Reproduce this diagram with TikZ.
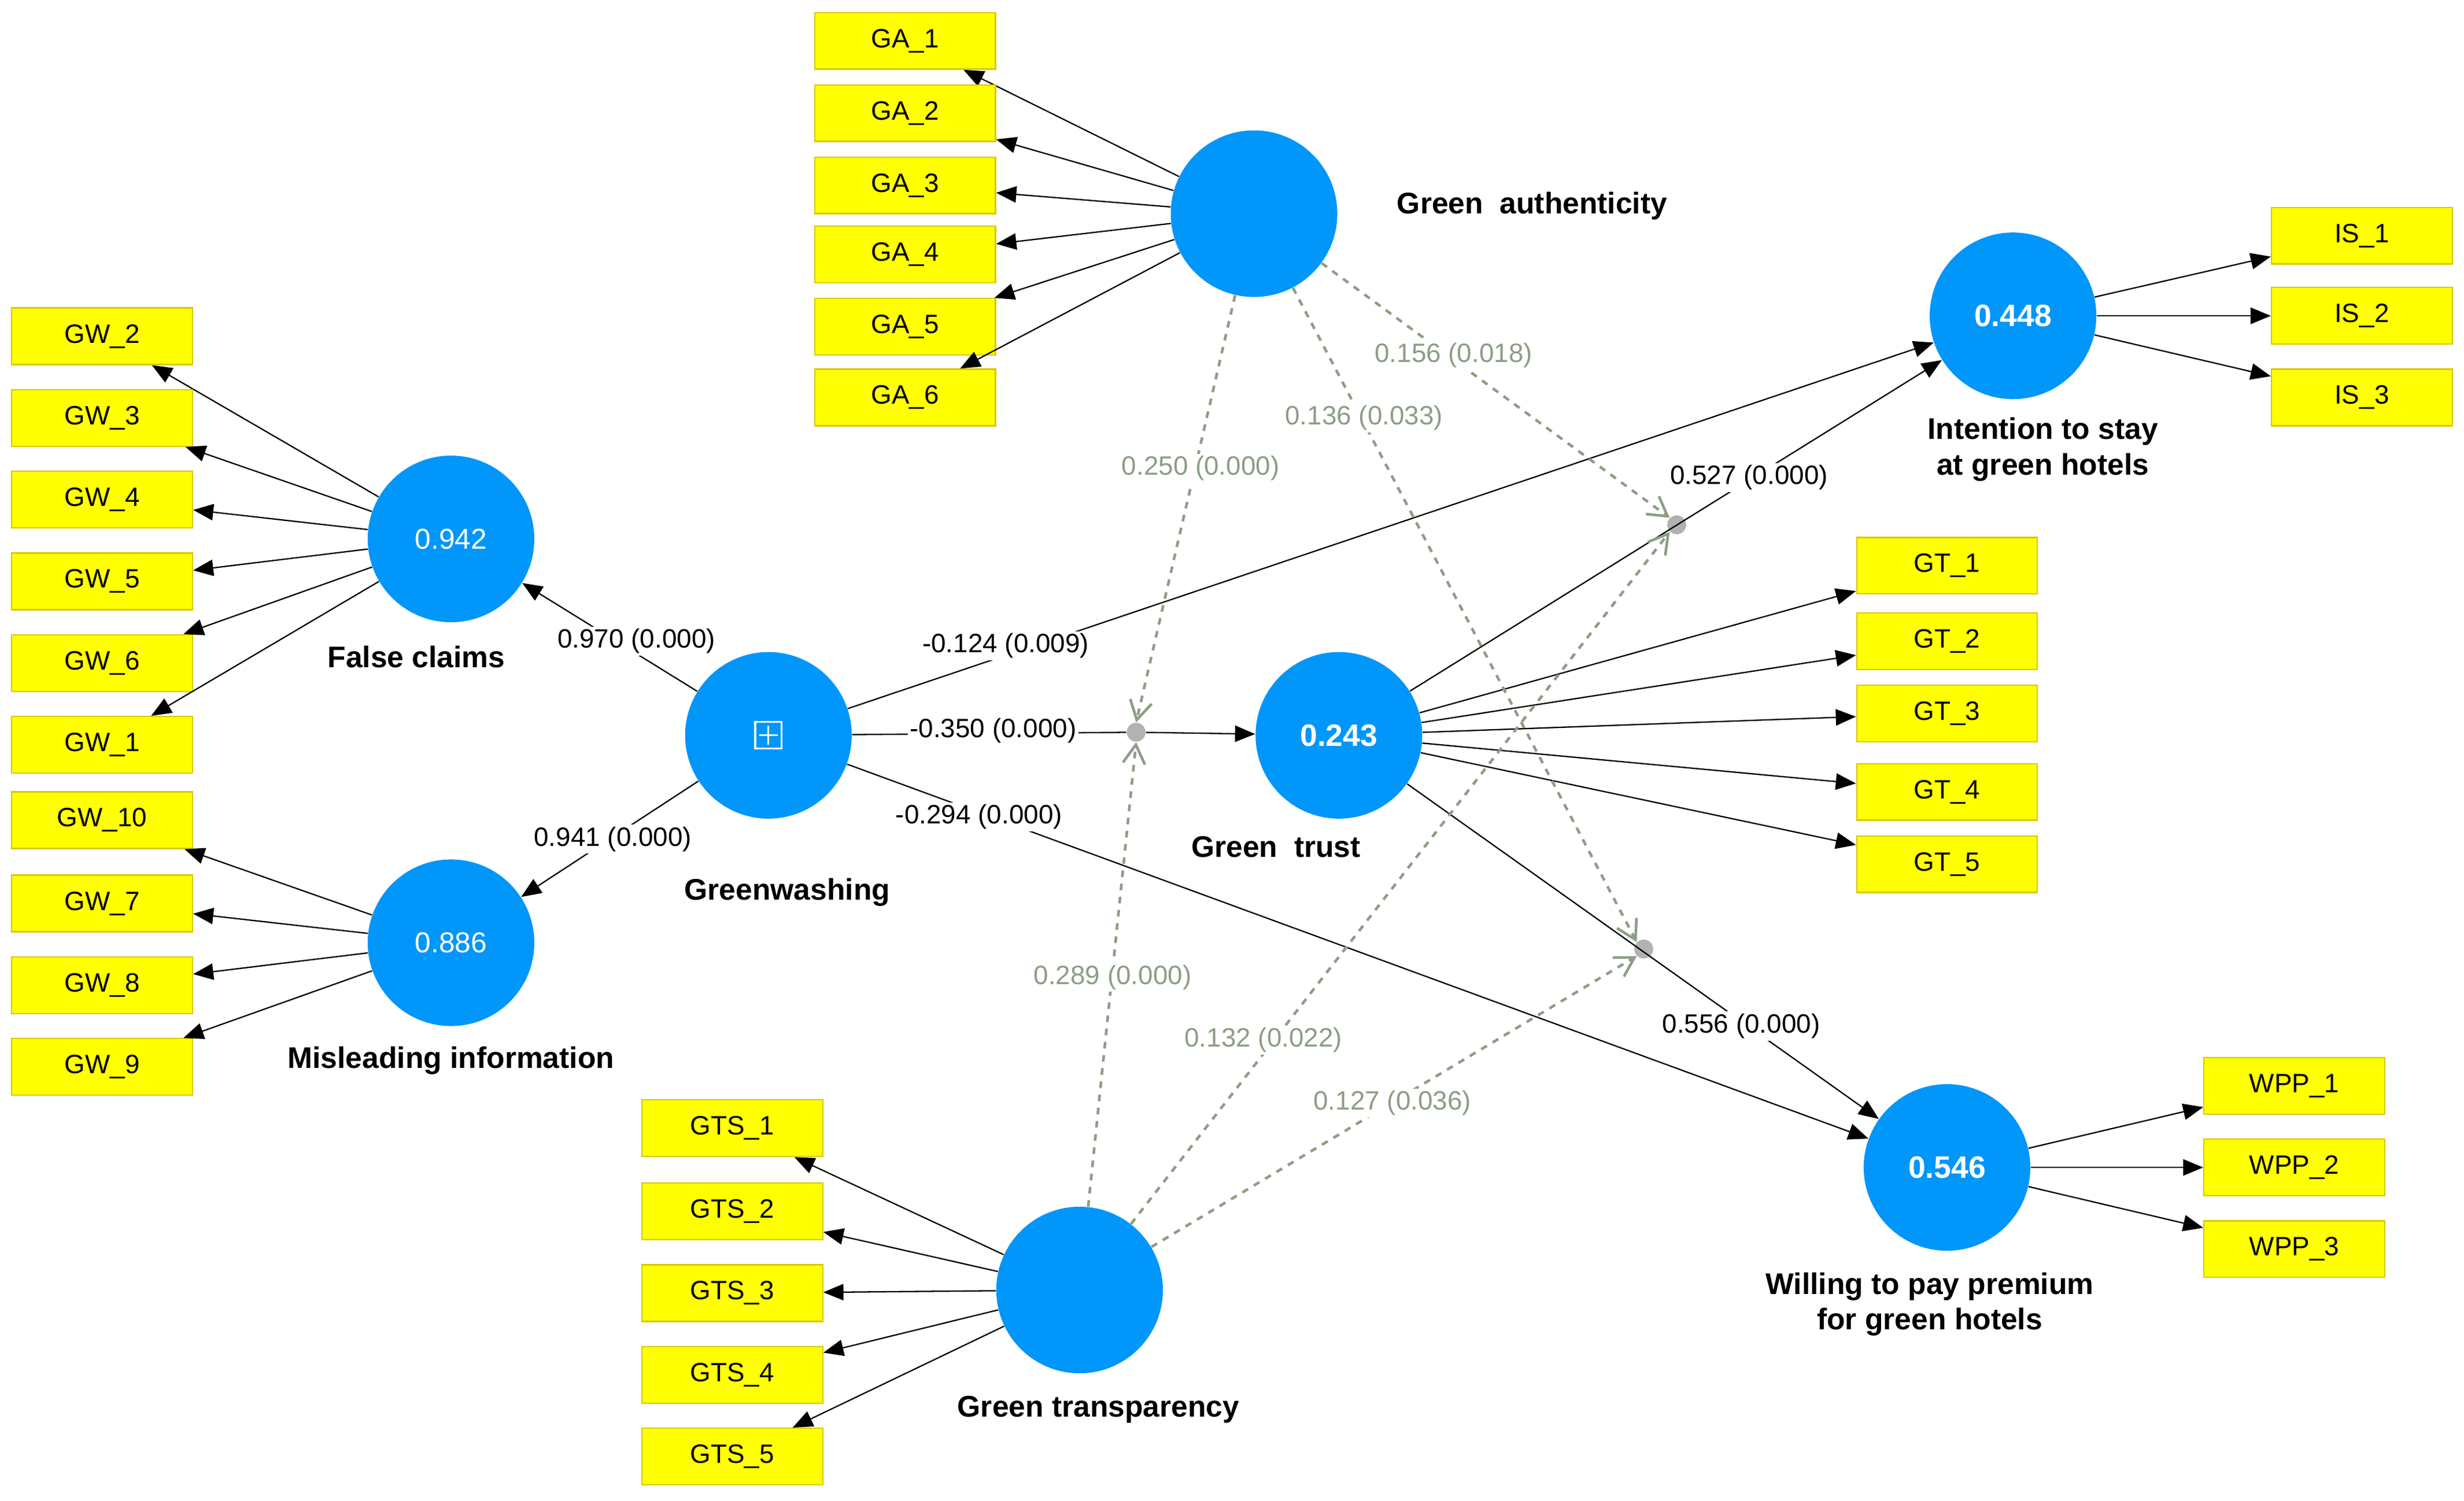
\documentclass[tikz,border=0pt]{standalone}
\usepackage{fontspec}
\setmainfont{Liberation Sans}
\usetikzlibrary{arrows.meta}
\definecolor{cblue}{RGB}{0,150,250}
\definecolor{yfill}{RGB}{255,255,0}
\definecolor{ydraw}{RGB}{215,200,0}
\definecolor{dgray}{RGB}{140,158,132}
\begin{document}
\begin{tikzpicture}[x=0.025cm,y=-0.025cm,font=\fontsize{12}{14}\selectfont,
 box/.style={draw=ydraw,fill=yfill,line width=0.6pt,minimum width=2.875cm,minimum height=0.9cm,inner sep=0pt},
 lv/.style={circle,fill=cblue,minimum size=2.65cm,inner sep=0pt,text=white,font=\fontsize{13}{15}\selectfont},
 dot/.style={circle,fill=gray!60,minimum size=0.3cm,inner sep=0pt},
 arr/.style={-{Triangle[length=0.32cm,width=0.26cm]},line width=0.6pt},
 dsh/.style={dashed,dgray,line width=1.2pt,-{Straight Barb[length=0.3cm,width=0.35cm]}},
 lab/.style={fill=white,inner sep=1pt},
 glab/.style={fill=white,inner sep=1pt,text=dgray},
 lvname/.style={font=\fontsize{13.5}{16}\selectfont\bfseries,align=center}]
\useasboundingbox (0,0) rectangle (1568,955);
% latent variables
\node[lv] (ga) at (798,136) {};
\node[lv] (fc) at (287,343) {0.942};
\node[lv] (gw) at (489,468) {};
\node[draw=white,line width=0.8pt,minimum size=0.42cm,inner sep=0pt] (icon) at (489,468) {};
\draw[white,line width=0.8pt] (483,468) -- (495,468) (489,462) -- (489,474);
\node[lv] (mi) at (287,600) {0.886};
\node[lv,font=\fontsize{14}{16}\selectfont\bfseries] (gt) at (852,468) {0.243};
\node[lv,font=\fontsize{14}{16}\selectfont\bfseries] (is) at (1281,201) {0.448};
\node[lv,font=\fontsize{14}{16}\selectfont\bfseries] (wp) at (1239,743) {0.546};
\node[lv] (gts) at (687,821) {};
% names
\node[lvname] (nga) at (975,131) {Green\ \ authenticity};
\node[lvname] (nfc) at (265,418) {False claims};
\node[lvname] (ngw) at (501,568) {Greenwashing};
\node[lvname] (nmi) at (287,675) {Misleading information};
\node[lvname] (ngt) at (812,539) {Green\ \ trust};
\node[lvname] (nis) at (1300,286) {Intention to stay\\at green hotels};
\node[lvname] (nwp) at (1228,830) {Willing to pay premium\\for green hotels};
\node[lvname] (ngts) at (699,897) {Green transparency};
% boxes
\foreach \n/\y in {1/26,2/72,3/118,4/162,5/208,6/253}
  {\node[box] (ga\n) at (576,\y) {GA\_\n}; \draw[arr] (ga) -- (ga\n);}
\foreach \n/\y in {2/214,3/266,4/318,5/370,6/422,1/474}
  {\node[box] (gwb\n) at (65,\y) {GW\_\n}; \draw[arr] (fc) -- (gwb\n);}
\foreach \n/\y in {10/522,7/575,8/627,9/679}
  {\node[box] (gwb\n) at (65,\y) {GW\_\n}; \draw[arr] (mi) -- (gwb\n);}
\foreach \n/\y in {1/150,2/201,3/253}
  {\node[box] (is\n) at (1503,\y) {IS\_\n}; \draw[arr] (is) -- (is\n);}
\foreach \n/\y in {1/360,2/408,3/454,4/504,5/550}
  {\node[box] (gt\n) at (1239,\y) {GT\_\n}; \draw[arr] (gt) -- (gt\n);}
\foreach \n/\y in {1/691,2/743,3/795}
  {\node[box] (wp\n) at (1460,\y) {WPP\_\n}; \draw[arr] (wp) -- (wp\n);}
\foreach \n/\y in {1/718,2/771,3/823,4/875,5/927}
  {\node[box] (gts\n) at (466,\y) {GTS\_\n}; \draw[arr] (gts) -- (gts\n);}
% dots
\node[dot] (d1) at (723,466) {};
\node[dot] (d2) at (1067,334) {};
\node[dot] (d3) at (1046,604) {};
% structural paths
\draw[arr] (gw) -- (fc);
\draw[arr] (gw) -- (mi);
\draw[arr] (gw) -- (is);
\draw[line width=0.6pt] (gw) -- (d1);
\draw[arr] (d1) -- (gt);
\draw[arr] (gw) -- (wp);
\draw[arr] (gt) -- (is);
\draw[arr] (gt) -- (wp);
% dashed moderation
\draw[dsh] (ga) -- (d1.north);
\draw[dsh] (ga) -- (d3.north west);
\draw[dsh] (ga) -- (d2.north west);
\draw[dsh] (gts) -- (d1.south);
\draw[dsh] (gts) -- (d2.south west);
\draw[dsh] (gts) -- (d3.south west);
% labels
\node[lab] at (405,408) {0.970 (0.000)};
\node[lab] at (390,534) {0.941 (0.000)};
\node[lab] at (640,411) {-0.124 (0.009)};
\node[lab] at (632,465) {-0.350 (0.000)};
\node[lab] at (623,520) {-0.294 (0.000)};
\node[lab] at (1113,304) {0.527 (0.000)};
\node[lab] at (1108,653) {0.556 (0.000)};
\node[glab] at (925,226) {0.156 (0.018)};
\node[glab] at (868,266) {0.136 (0.033)};
\node[glab] at (764,298) {0.250 (0.000)};
\node[glab] at (708,622) {0.289 (0.000)};
\node[glab] at (804,662) {0.132 (0.022)};
\node[glab] at (886,702) {0.127 (0.036)};
\end{tikzpicture}
\end{document}
